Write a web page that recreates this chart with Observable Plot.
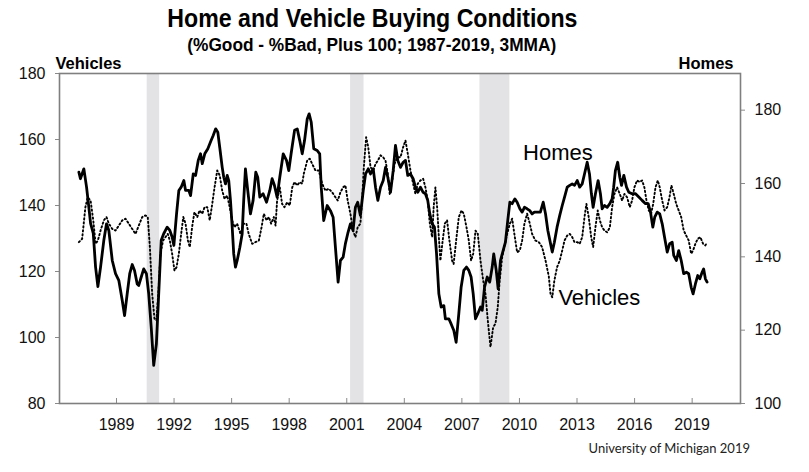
<!DOCTYPE html>
<html>
<head>
<meta charset="utf-8">
<script src="https://cdn.jsdelivr.net/npm/d3@7"></script>
<script src="https://cdn.jsdelivr.net/npm/@observablehq/plot@0.6"></script>
<style>
  body { margin: 0; background: #fff; }
  #wrap { position: relative; width: 809px; height: 472px; overflow: hidden; background: #fff; font-family: "Liberation Sans", Arial, sans-serif; }
  .hd { position: absolute; left: 0; width: 744px; text-align: center; font-family: "Liberation Sans Narrow", "Arial Narrow", "Liberation Sans", Arial, sans-serif; font-weight: bold; color: #000; z-index: 2; line-height: 1.1; }
  .hd span { display: inline-block; transform-origin: center; }
  #title { top: 4px; font-size: 26px; }
  #title span { transform: scaleX(0.89); }
  #subtitle { top: 35px; font-size: 19px; }
  #subtitle span { transform: scaleX(0.91); }
  #chart { position: absolute; left: 0; top: 50px; z-index: 1; }
  #footer { position: absolute; right: 59px; top: 440px; font-family: Lato, "Noto Sans", sans-serif; font-size: 13px; color: #222; }
</style>
</head>
<body>
<div id="wrap">
  <div id="chart"></div>
  <div id="title" class="hd"><span>Home and Vehicle Buying Conditions</span></div>
  <div id="subtitle" class="hd"><span>(%Good - %Bad, Plus 100; 1987-2019, 3MMA)</span></div>
  <div id="footer">University of Michigan 2019</div>
</div>
<script>
// ---- Data ----
const homeYears = [1987.04,1987.12,1987.30,1987.44,1987.56,1987.65,1987.79,1987.91,1988.03,1988.17,1988.34,1988.48,1988.60,1988.78,1988.95,1989.12,1989.30,1989.42,1989.56,1989.69,1989.82,1989.94,1990.08,1990.16,1990.29,1990.42,1990.56,1990.68,1990.81,1990.94,1991.08,1991.20,1991.33,1991.46,1991.64,1991.78,1991.90,1991.99,1992.13,1992.25,1992.37,1992.51,1992.60,1992.77,1992.86,1993.00,1993.12,1993.26,1993.38,1993.47,1993.60,1993.76,1993.93,1994.04,1994.17,1994.28,1994.38,1994.51,1994.59,1994.68,1994.77,1994.85,1994.94,1995.03,1995.11,1995.20,1995.29,1995.43,1995.55,1995.63,1995.72,1995.84,1995.98,1996.12,1996.26,1996.36,1996.47,1996.64,1996.82,1996.99,1997.11,1997.23,1997.37,1997.51,1997.69,1997.86,1997.98,1998.10,1998.28,1998.42,1998.55,1998.68,1998.80,1998.94,1999.04,1999.15,1999.28,1999.46,1999.59,1999.67,1999.80,1999.98,2000.15,2000.29,2000.41,2000.55,2000.67,2000.81,2000.93,2001.05,2001.19,2001.33,2001.45,2001.57,2001.71,2001.86,2001.98,2002.12,2002.24,2002.38,2002.50,2002.62,2002.76,2002.90,2003.02,2003.14,2003.28,2003.42,2003.54,2003.66,2003.80,2003.94,2004.06,2004.18,2004.32,2004.46,2004.58,2004.70,2004.84,2004.98,2005.10,2005.22,2005.33,2005.45,2005.57,2005.68,2005.80,2005.92,2006.06,2006.14,2006.32,2006.44,2006.58,2006.70,2006.84,2006.96,2007.10,2007.24,2007.36,2007.48,2007.59,2007.71,2007.83,2007.97,2008.06,2008.18,2008.32,2008.45,2008.58,2008.66,2008.79,2008.89,2009.01,2009.15,2009.27,2009.39,2009.50,2009.62,2009.76,2009.88,2010.02,2010.14,2010.26,2010.40,2010.54,2010.66,2010.78,2010.95,2011.09,2011.24,2011.36,2011.48,2011.62,2011.71,2011.82,2011.96,2012.10,2012.23,2012.35,2012.49,2012.62,2012.75,2012.87,2013.01,2013.14,2013.27,2013.39,2013.53,2013.65,2013.75,2013.84,2013.96,2014.10,2014.22,2014.31,2014.43,2014.57,2014.71,2014.83,2014.91,2015.00,2015.12,2015.23,2015.32,2015.44,2015.58,2015.70,2015.87,2016.05,2016.22,2016.39,2016.57,2016.71,2016.83,2016.95,2017.05,2017.18,2017.31,2017.44,2017.56,2017.70,2017.83,2017.96,2018.04,2018.18,2018.30,2018.43,2018.56,2018.70,2018.82,2018.95,2019.05,2019.17,2019.29,2019.40,2019.52,2019.60,2019.69,2019.78];
const homeValues = [163.1,161.3,164.0,159.0,153.5,149.1,146.4,137.2,131.9,137.2,144.5,149.0,147.2,139.0,135.4,133.6,128.1,124.0,130.0,135.4,137.9,136.3,132.6,132.2,134.5,136.7,135.4,129.9,120.8,110.4,116.3,129.9,144.5,146.3,148.1,147.2,145.4,143.1,151.7,158.1,159.0,160.8,158.1,158.1,156.7,162.6,162.2,166.3,168.1,165.4,168.1,169.5,171.7,173.1,174.9,174.0,169.9,164.4,161.7,159.9,162.2,160.8,155.4,148.1,140.8,137.2,139.0,142.6,146.3,155.4,164.0,158.1,151.7,155.4,163.1,161.7,156.3,157.2,154.9,158.1,161.3,159.5,156.3,161.7,168.1,166.3,163.5,168.1,174.5,174.9,171.7,168.1,171.7,177.6,179.0,176.7,169.5,169.0,168.1,159.0,149.9,154.0,152.6,150.8,142.6,133.1,139.0,139.9,143.6,146.3,149.0,147.2,153.5,154.9,151.3,158.1,162.6,164.0,162.6,164.0,159.0,155.4,159.0,160.8,164.4,161.7,157.6,163.5,170.4,166.3,164.4,165.8,166.3,162.2,162.6,161.3,159.0,157.6,159.0,157.6,157.2,155.4,151.7,149.0,148.1,140.8,129.9,126.3,126.7,123.1,123.1,121.7,119.9,116.7,124.5,131.7,136.3,137.2,136.3,134.5,129.9,123.1,124.5,126.3,125.4,131.7,134.5,133.1,137.2,140.8,136.3,131.3,139.0,141.7,144.0,149.9,154.9,154.5,155.8,154.9,153.1,152.2,153.5,153.1,152.6,151.7,152.2,152.2,152.2,154.9,151.7,147.2,143.6,141.3,144.0,148.1,151.3,154.0,156.3,159.0,159.5,159.9,159.5,160.8,159.0,159.9,162.6,165.8,162.6,157.2,153.5,157.2,160.8,157.2,153.1,154.0,153.5,154.5,155.8,159.0,163.5,165.8,161.7,159.5,162.2,159.0,157.6,157.2,157.2,156.3,155.4,154.5,154.5,152.2,148.1,150.8,152.2,151.7,149.0,145.4,141.3,143.6,144.0,140.4,139.0,141.7,139.0,135.4,135.8,135.4,131.7,129.9,132.6,134.9,134.0,135.8,136.7,134.0,133.1];

const vehicleYears = [1987.04,1987.21,1987.38,1987.50,1987.65,1987.79,1987.91,1988.03,1988.17,1988.34,1988.48,1988.60,1988.78,1988.95,1989.12,1989.30,1989.47,1989.64,1989.82,1989.99,1990.16,1990.34,1990.51,1990.63,1990.74,1990.86,1990.98,1991.08,1991.20,1991.29,1991.43,1991.55,1991.67,1991.78,1991.90,1992.02,1992.13,1992.25,1992.37,1992.48,1992.60,1992.72,1992.82,1992.94,1993.06,1993.21,1993.33,1993.47,1993.59,1993.73,1993.86,1993.99,1994.11,1994.25,1994.38,1994.51,1994.63,1994.77,1994.90,1995.03,1995.15,1995.29,1995.46,1995.63,1995.77,1995.89,1996.07,1996.24,1996.42,1996.56,1996.68,1996.82,1996.94,1997.06,1997.20,1997.29,1997.37,1997.51,1997.63,1997.75,1997.90,1998.03,1998.16,1998.28,1998.42,1998.55,1998.68,1998.76,1998.94,1999.07,1999.20,1999.37,1999.54,1999.72,1999.89,2000.06,2000.24,2000.41,2000.53,2000.67,2000.81,2000.93,2001.05,2001.19,2001.33,2001.45,2001.57,2001.71,2001.80,2001.89,2002.01,2002.12,2002.24,2002.38,2002.50,2002.62,2002.76,2002.90,2003.02,2003.14,2003.24,2003.37,2003.49,2003.63,2003.80,2003.94,2004.06,2004.18,2004.32,2004.46,2004.58,2004.70,2004.84,2004.98,2005.10,2005.22,2005.33,2005.45,2005.53,2005.62,2005.71,2005.80,2005.88,2006.00,2006.11,2006.23,2006.35,2006.49,2006.57,2006.72,2006.84,2006.98,2007.10,2007.24,2007.36,2007.48,2007.59,2007.71,2007.83,2007.97,2008.11,2008.23,2008.35,2008.49,2008.63,2008.75,2008.87,2008.97,2009.10,2009.22,2009.36,2009.50,2009.62,2009.76,2009.88,2010.02,2010.14,2010.26,2010.40,2010.54,2010.66,2010.83,2011.01,2011.18,2011.36,2011.53,2011.62,2011.71,2011.82,2011.96,2012.10,2012.23,2012.35,2012.49,2012.62,2012.75,2012.87,2013.01,2013.14,2013.27,2013.39,2013.49,2013.61,2013.74,2013.84,2013.96,2014.08,2014.19,2014.31,2014.43,2014.57,2014.71,2014.83,2014.95,2015.09,2015.23,2015.35,2015.47,2015.61,2015.75,2015.87,2015.99,2016.13,2016.27,2016.39,2016.51,2016.62,2016.74,2016.86,2016.97,2017.09,2017.21,2017.31,2017.44,2017.56,2017.70,2017.82,2017.92,2018.04,2018.17,2018.30,2018.43,2018.56,2018.69,2018.82,2018.95,2019.05,2019.17,2019.29,2019.43,2019.57,2019.69,2019.78];
const vehicleValues = [128.9,129.9,139.5,142.5,141.5,135.5,128.4,129.4,132.4,135.5,136.5,134.5,132.9,132.4,133.9,135.5,136.0,134.5,132.9,131.4,133.9,136.5,137.0,136.5,127.4,113.2,105.7,105.2,115.2,125.4,129.4,130.4,131.4,129.4,125.4,120.3,121.3,125.4,131.4,136.5,134.5,129.4,127.4,133.4,138.0,136.5,138.5,137.5,139.5,139.5,135.5,140.5,145.5,150.6,149.1,144.5,142.0,143.0,139.5,135.5,133.4,134.5,131.4,134.5,134.5,131.4,128.4,128.9,129.4,133.4,137.5,135.5,136.5,134.5,136.5,133.9,141.5,145.5,140.5,139.5,141.0,140.0,145.5,147.1,146.1,147.1,146.6,149.6,153.6,154.2,152.6,150.6,150.6,146.6,144.5,145.1,144.0,142.5,141.5,144.0,145.5,146.1,141.5,137.5,132.4,130.4,133.4,134.5,141.5,151.6,160.7,157.7,151.6,150.6,152.6,153.6,155.2,154.6,153.6,149.6,143.5,147.6,152.6,154.6,154.6,157.7,159.7,155.7,150.6,146.6,143.5,146.6,147.6,148.1,145.5,141.5,134.5,130.4,139.5,145.5,139.5,130.4,123.3,129.4,134.5,135.5,129.4,123.3,122.3,130.4,136.5,138.5,137.5,133.4,129.4,123.3,125.4,132.4,131.4,123.3,117.3,113.2,105.2,97.1,103.1,104.2,109.2,117.3,124.3,127.9,131.4,134.5,136.0,130.4,125.8,126.4,129.4,134.5,137.5,134.5,131.4,129.4,128.9,127.4,123.3,118.5,113.2,112.2,117.3,121.3,123.3,126.4,129.4,130.9,131.4,130.4,128.9,128.9,128.4,130.4,136.5,140.5,136.5,130.4,127.4,133.4,138.5,135.5,133.4,132.4,131.9,133.4,139.5,143.5,145.5,143.5,141.5,143.5,142.5,139.5,141.5,145.5,147.6,147.1,147.6,145.5,141.5,138.5,137.5,140.5,145.5,147.6,145.5,141.5,138.5,139.5,142.5,146.1,143.5,140.5,138.5,136.5,132.4,130.9,129.4,125.4,126.4,128.4,129.9,130.4,128.4,127.9,128.9];

const recessionStarts = [1990.6, 2001.2, 2007.94];
const recessionEnds = [1991.25, 2001.9, 2009.5];

const xTicks = [1989, 1992, 1995, 1998, 2001, 2004, 2007, 2010, 2013, 2016, 2019];
const vehicleTicks = [80, 100, 120, 140, 160, 180];
const homeTicks = [100, 120, 140, 160, 180];

const labelNames = ["Homes", "Vehicles"];
const labelYears = [2010.19, 2012.03];
const labelValues = [153.9, 109.7]; // on the Vehicles (left) scale

// ---- Build tables ----
const homeMin = 100, homeMax = 190, vehMin = 80, vehMax = 180;
const toLeft = h => vehMin + (h - homeMin) * (vehMax - vehMin) / (homeMax - homeMin);
const fromLeft = v => homeMin + (v - vehMin) * (homeMax - homeMin) / (vehMax - vehMin);

const homes = homeYears.map((x, i) => ({x, y: toLeft(homeValues[i])}));
const vehicles = vehicleYears.map((x, i) => ({x, y: vehicleValues[i]}));
const recessions = recessionStarts.map((s, i) => ({s, e: recessionEnds[i]}));
const labels = labelNames.map((t, i) => ({t, x: labelYears[i], y: labelValues[i]}));

const chart = Plot.plot({
  width: 809,
  height: 390,
  marginLeft: 59,
  marginRight: 69,
  marginTop: 23,
  marginBottom: 37,
  x: {domain: [1986.03, 2021.52]},
  y: {domain: [vehMin, vehMax]},
  style: {fontFamily: '"Liberation Sans", Arial, sans-serif', fontSize: "16px", color: "#111", background: "transparent"},
  marks: [
    Plot.rect(recessions, {x1: "s", x2: "e", fill: "#e3e3e6"}),
    Plot.line(vehicles, {x: "x", y: "y", stroke: "#000", strokeWidth: 1.9, strokeDasharray: "1.4,2.6"}),
    Plot.line(homes, {x: "x", y: "y", stroke: "#000", strokeWidth: 2.8, strokeLinejoin: "round"}),
    Plot.text(labels, {x: "x", y: "y", text: "t", textAnchor: "start", lineAnchor: "bottom", fontSize: 22, fill: "#000"}),
    Plot.tickX(xTicks, {x: d => d, insetTop: 325, stroke: "#8a8a8a", strokeWidth: 1}),
    Plot.axisX(xTicks, {anchor: "bottom", tickSize: 0, tickPadding: 15, tickFormat: d => String(d), label: null, fill: "#111"}),
    Plot.axisY(vehicleTicks, {anchor: "left", tickSize: 4, tickPadding: 10, label: null, stroke: "#8a8a8a", fill: "#111"}),
    Plot.axisY(homeTicks.map(toLeft), {anchor: "right", tickSize: 4, tickPadding: 10, label: null, tickFormat: d => String(Math.round(fromLeft(d))), stroke: "#8a8a8a", fill: "#111"}),
    Plot.frame({stroke: "#7f7f7f", strokeWidth: 1.6}),
    Plot.text(["Vehicles"], {frameAnchor: "top-left", textAnchor: "start", lineAnchor: "bottom", dx: -4, dy: -5, fontWeight: "bold", fontSize: 16.5, fill: "#000"}),
    Plot.text(["Homes"], {frameAnchor: "top-right", textAnchor: "end", lineAnchor: "bottom", dx: -7, dy: -5, fontWeight: "bold", fontSize: 16.5, fill: "#000"})
  ]
});
document.getElementById("chart").appendChild(chart);
</script>
</body>
</html>
